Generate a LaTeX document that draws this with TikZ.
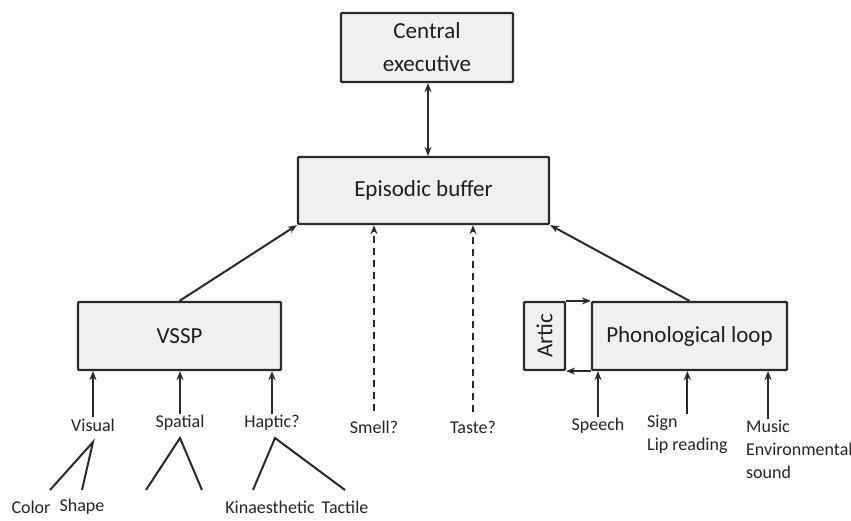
\documentclass[tikz,border=0pt]{standalone}
\usepackage{fontspec}
\setmainfont{Carlito}
\usetikzlibrary{arrows.meta}
\definecolor{boxfill}{HTML}{F0F0F0}
\definecolor{edge}{HTML}{2A2A2A}
\tikzset{
  box/.style={draw=edge, line width=2.2pt, fill=boxfill, rounded corners=1pt, inner sep=0pt, font=\fontsize{23}{24}\selectfont, text=black!88},
  lab/.style={inner sep=1pt, font=\fontsize{18}{23}\selectfont, text=black!85},
  conn/.style={draw=edge, line width=2pt, -{Stealth[length=9pt,width=7pt]}},
  twoway/.style={draw=edge, line width=2pt, {Stealth[length=9pt,width=7pt]}-{Stealth[length=9pt,width=7pt]}},
  dconn/.style={conn, dash pattern=on 7pt off 5pt},
  branch/.style={draw=edge, line width=2pt},
}
\begin{document}
\begin{tikzpicture}[x=1pt, y=-1pt]
\useasboundingbox[fill=white] (0,0) rectangle (851,520);

% boxes
\node[box, minimum width=172pt, minimum height=69pt, align=center] (ce) at (427,47.5) {Central\\[9pt]executive};
\node[box, minimum width=251pt, minimum height=67pt] (eb) at (423.5,190.5) {Episodic buffer};
\node[box, minimum width=203pt, minimum height=68pt] (vssp) at (179.5,336) {VSSP};
\node[box, minimum width=41pt, minimum height=68pt] (artic) at (544.5,336) {\rotatebox{90}{Artic}};
\node[box, minimum width=195pt, minimum height=68pt] (phon) at (689.5,336) {Phonological loop};

% rehearsal loop between Artic and phonological loop
\draw[conn] (artic.north east) -- (phon.north west);
\draw[conn] (phon.south west) -- (artic.south east);

% central executive <-> episodic buffer
\draw[twoway] (ce.south -| 428,0) -- (eb.north -| 428,0);

% subsystems to episodic buffer
\draw[conn] (vssp.north) -- (eb.south west);
\draw[conn] (phon.north) -- (eb.south east);

% input labels
\node[lab] (visual) at (93,425) {Visual};
\node[lab] (spatial) at (180,423) {Spatial};
\node[lab] (haptic) at (272,423) {Haptic?};
\node[lab] (smell) at (374,427) {Smell?};
\node[lab] (taste) at (473,427) {Taste?};
\node[lab] (speech) at (598,426) {Speech};
\node[lab, anchor=north west, align=left] (sign) at (646,414) {Sign\\Lip reading};
\node[lab, anchor=west] (music) at (745,426) {Music};
\node[lab, anchor=west] (env) at (745,449) {Environmental};
\node[lab, anchor=west] (sound) at (745,472) {sound};

\node[lab] (color) at (31,507) {Color};
\node[lab] (shape) at (82,507) {Shape};
\node[lab] (kin) at (270,507) {Kinaesthetic};
\node[lab] (tactile) at (345,507) {Tactile};

% arrows into VSSP
\draw[conn] (visual.north) -- (visual.north |- vssp.south);
\draw[conn] (spatial.north) -- (spatial.north |- vssp.south);
\draw[conn] (haptic.north) -- (haptic.north |- vssp.south);

% dashed arrows into episodic buffer
\draw[dconn] (smell.north) ++(0,-8) -- (smell.north |- eb.south);
\draw[dconn] (taste.north) ++(0,-8) -- (taste.north |- eb.south);

% arrows into phonological loop
\draw[conn] (speech.north) -- (speech.north |- phon.south);
\draw[conn] (sign.north) -- (sign.north |- phon.south);
\draw[conn] (music.north) -- (music.north |- phon.south);

% branches
\coordinate (va) at (93,442);
\coordinate (vl) at (50,490);
\coordinate (vr) at (82,490);
\coordinate (sa) at (180,438);
\coordinate (sl) at (146,490);
\coordinate (sr) at (202,490);
\coordinate (ha) at (275,438);
\coordinate (hl) at (253,490);
\coordinate (hr) at (345,490);
\draw[branch] (vl) -- (va) -- (vr);
\draw[branch] (sl) -- (sa) -- (sr);
\draw[branch] (hl) -- (ha) -- (hr);
\end{tikzpicture}
\end{document}
